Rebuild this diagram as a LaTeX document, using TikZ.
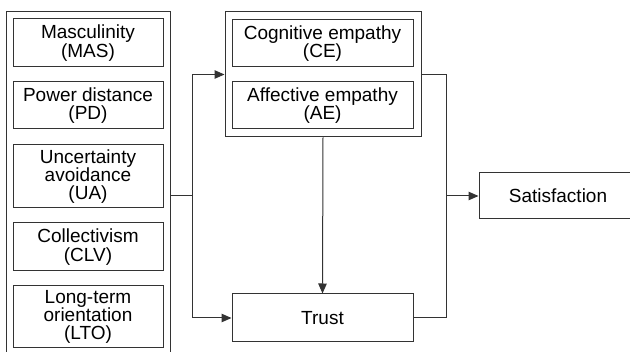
\documentclass[tikz,border=0pt]{standalone}
\usepackage{fontspec}
\setmainfont{Liberation Sans}
\usetikzlibrary{arrows.meta}

\tikzset{
  box/.style={draw=black!80, line width=1pt, align=center, inner sep=0pt,
    font=\fontsize{19}{18.3}\selectfont},
  link/.style={draw=black!80, line width=1pt},
  arr/.style={link, -{Triangle[length=10pt,width=8.5pt]}}
}

\begin{document}
\begin{tikzpicture}[x=1pt, y=-1pt]

\useasboundingbox (0,0) rectangle (630,352);

\node [box, minimum width=164pt, minimum height=350pt] (cult) at (88,187) {};
\node [box, minimum width=150pt, minimum height=48pt] (mas) at (88,43) {Masculinity\\(MAS)};
\node [box, minimum width=150pt, minimum height=47pt] (pd) at (88,105.5) {Power distance\\(PD)};
\node [box, minimum width=150pt, minimum height=63pt] (ua) at (88,176.5) {Uncertainty\\avoidance\\(UA)};
\node [box, minimum width=150pt, minimum height=48pt] (clv) at (88,247) {Collectivism\\(CLV)};
\node [box, minimum width=150pt, minimum height=62pt] (lto) at (88,317) {Long-term\\orientation\\(LTO)};

\node [box, minimum width=196pt, minimum height=125pt] (emp) at (323,74.5) {};
\node [box, minimum width=181pt, minimum height=47pt] (ce) at (322.5,43.5) {Cognitive empathy\\(CE)};
\node [box, minimum width=181pt, minimum height=47pt] (ae) at (322.5,105.5) {Affective empathy\\(AE)};

\node [box, minimum width=181pt, minimum height=48pt] (trust) at (322.5,318) {Trust};
\node [box, minimum width=158pt, minimum height=46pt] (sat) at (558,196) {Satisfaction};

\coordinate (split) at (192,196);
\coordinate (merge) at (446,196);

\draw [link] (cult.east |- split) -- (split);
\draw [arr] (split) |- (emp.west);
\draw [arr] (split) |- (trust.west);
\draw [arr] (emp.south) -- (trust.north);

\draw [link] (emp.east) -| (merge);
\draw [link] (trust.east) -| (merge);
\draw [arr] (merge) -- (sat.west);

\end{tikzpicture}
\end{document}
